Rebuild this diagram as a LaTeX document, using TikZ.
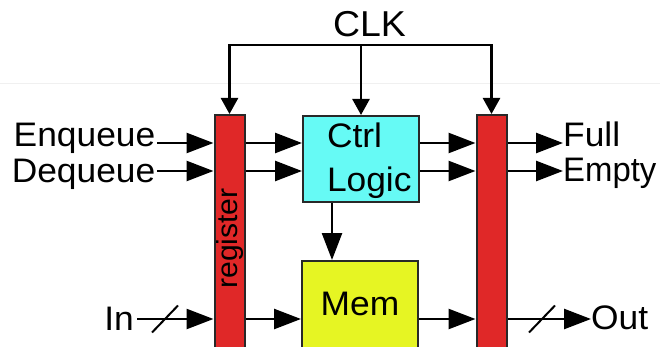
\documentclass[tikz,border=0pt]{standalone}
\usepackage{fontspec}
\setmainfont{Liberation Sans}[FakeStretch=1.04]
\usetikzlibrary{arrows.meta}
\definecolor{regred}{RGB}{224,40,40}
\definecolor{ctrlcyan}{RGB}{102,250,245}
\definecolor{memyellow}{RGB}{230,245,35}
\definecolor{edgegray}{RGB}{40,40,40}
\begin{document}
\begin{tikzpicture}[x=1pt,y=-1pt,
  lbl/.style={inner sep=0pt, font=\fontsize{34}{44}\selectfont},
  bighead/.tip={Triangle[length=27pt,width=20pt]},
  clkhead/.tip={Triangle[length=16pt,width=17pt]},
  wire/.style={line width=2.5pt, -bighead},
  clkwire/.style={line width=2.5pt, -clkhead},
  block/.style={draw=edgegray, line width=2pt, inner sep=0pt},
  regbox/.style={block, fill=regred, minimum width=30pt, minimum height=247pt, anchor=north},
  busslash/.style={line width=2pt}]
\useasboundingbox (0,0) rectangle (660,347);
\clip (0,0) rectangle (660,347);
\fill[white] (0,0) rectangle (660,347);
\draw[gray!12, line width=1pt] (0,84) -- (660,84);

% horizontal signal rows and the clock bus
\coordinate (bus) at (0,45);
\coordinate (rowE) at (0,143);
\coordinate (rowD) at (0,171);
\coordinate (rowI) at (0,319);
\coordinate (colM) at (332,0);

% blocks
\node[regbox, font=\fontsize{29}{30}\selectfont] (lreg) at (229.5,114) {\rotatebox{90}{register}};
\node[regbox] (rreg) at (491.5,114) {};
\node[block, fill=ctrlcyan, anchor=north west, text width=68pt, inner xsep=24pt,
      text height=32pt, text depth=54pt, align=left, font=\fontsize{34}{44}\selectfont]
      (ctrl) at (302,115) {Ctrl\\\mbox{Logic}};
\node[block, fill=memyellow, anchor=base, minimum width=116pt, text height=54pt,
      text depth=50pt, font=\fontsize{34}{44}\selectfont] (mem) at (360,315) {Mem};

% labels
\node[lbl, anchor=base east] (enq) at (155.5,147) {Enqueue};
\node[lbl, anchor=base east] (deq) at (155.5,183) {Dequeue};
\node[lbl, anchor=base east] (in) at (134,330) {In};
\node[lbl, anchor=base west] (full) at (563,147) {Full};
\node[lbl, anchor=base west] (empty) at (563,182) {\scalebox{0.93}[1]{Empty}};
\node[lbl, anchor=base west] (out) at (591,329) {Out};
\node[inner sep=0pt, font=\fontsize{36}{40}\selectfont, anchor=base] (clk) at (369.5,37) {CLK};

% clock distribution
\draw[line width=2.5pt, clkhead-clkhead] (lreg.north) -- (lreg.north |- bus) -- (rreg.north |- bus) -- (rreg.north);
\draw[clkwire] (ctrl.north |- bus) -- (ctrl.north);

% data and control wires
\draw[wire, shorten <=1.5pt] (enq.east |- rowE) -- (lreg.west |- rowE);
\draw[wire, shorten <=1.5pt] (deq.east |- rowD) -- (lreg.west |- rowD);
\draw[wire] (lreg.east |- rowE) -- (ctrl.west |- rowE);
\draw[wire] (lreg.east |- rowD) -- (ctrl.west |- rowD);
\draw[wire] (ctrl.east |- rowE) -- (rreg.west |- rowE);
\draw[wire] (ctrl.east |- rowD) -- (rreg.west |- rowD);
\draw[wire] (rreg.east |- rowE) -- (full.west |- rowE);
\draw[wire] (rreg.east |- rowD) -- (empty.west |- rowD);
\draw[wire, shorten <=3pt] (in.east |- rowI) -- (lreg.west |- rowI);
\draw[wire] (lreg.east |- rowI) -- (mem.west |- rowI);
\draw[wire] (mem.east |- rowI) -- (rreg.west |- rowI);
\draw[wire] (rreg.east |- rowI) -- (out.west |- rowI);
\draw[wire] (ctrl.south -| colM) -- (mem.north -| colM);

% bus-width slashes
\coordinate (inSlash) at (165,319);
\coordinate (outSlash) at (542,319);
\draw[busslash] (inSlash) ++(-13,13.5) -- ++(26,-27);
\draw[busslash] (outSlash) ++(-13,13.5) -- ++(26,-27);
\end{tikzpicture}
\end{document}
